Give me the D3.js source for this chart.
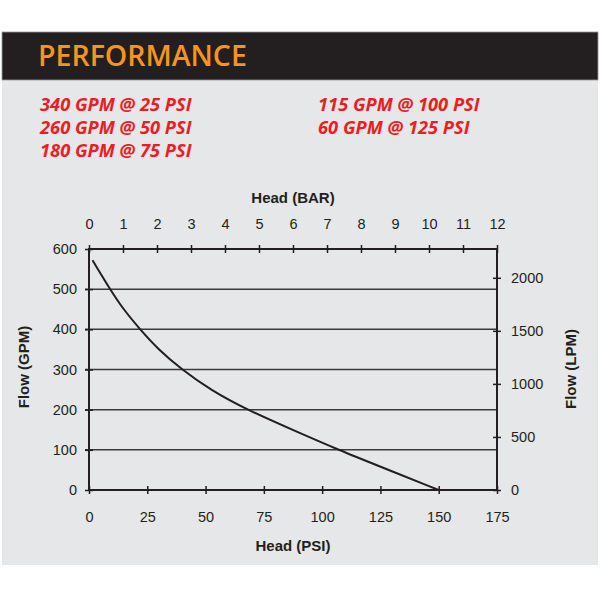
<!DOCTYPE html>
<html><head><meta charset="utf-8">
<script src="https://cdn.jsdelivr.net/npm/d3@7"></script>
<style>body{margin:0;background:#fff}svg{display:block}</style>
</head><body>
<svg id="c" width="600" height="600"></svg>
<script>
const title = "PERFORMANCE";
const ratingsLeft = ["340 GPM @ 25 PSI", "260 GPM @ 50 PSI", "180 GPM @ 75 PSI"];
const ratingsRight = ["115 GPM @ 100 PSI", "60 GPM @ 125 PSI"];
const headPsi = [1.5, 9, 14.7, 21.9, 29.7, 39.8, 51.9, 67.6, 90, 107, 125, 150];
const flowGpm = [572, 500, 450, 400, 350, 300, 250, 200, 143, 100, 58, 0];
const psiTicks = [0, 25, 50, 75, 100, 125, 150, 175];
const barTicks = [0, 1, 2, 3, 4, 5, 6, 7, 8, 9, 10, 11, 12];
const gpmTicks = [0, 100, 200, 300, 400, 500, 600];
const lpmTicks = [0, 500, 1000, 1500, 2000];

const svg = d3.select("#c");
const ink = "#231f20";
// background panels
svg.append("rect").attr("x", 2).attr("y", 80).attr("width", 596).attr("height", 485).attr("fill", "#e6e7e8");
svg.append("rect").attr("x", 2).attr("y", 32).attr("width", 596).attr("height", 48).attr("fill", ink)
  .attr("stroke", "#9a9a9a").attr("stroke-width", 0.8);
svg.append("text").attr("x", 38).attr("y", 66).text(title)
  .attr("font-family", "Open Sans").attr("font-weight", 600).attr("font-size", 28.5).attr("fill", "#f7941d");

const rt = svg.append("g").attr("font-family", "Open Sans").attr("font-weight", 700)
  .attr("font-style", "italic").attr("font-size", 18.3).attr("fill", "#ed1c24");
ratingsLeft.forEach((t, i) => rt.append("text").attr("x", 40).attr("y", 111 + i * 23).text(t));
ratingsRight.forEach((t, i) => rt.append("text").attr("x", 318).attr("y", 111 + i * 23).text(t));

const L = 89, R = 497, T = 249, B = 490;
const x = d3.scaleLinear().domain([0, 175]).range([L, R]);
const xb = d3.scaleLinear().domain([0, 12]).range([L, R]);
const y = d3.scaleLinear().domain([0, 600]).range([B, T]);
const yl = d3.scaleLinear().domain([0, 600 * 3.78541]).range([B, T]);

const font = "Liberation Sans, Arial, sans-serif";
function styleAxis(g) {
  g.select(".domain").remove();
  g.selectAll(".tick line").attr("stroke", ink).attr("stroke-width", 1.5);
  g.selectAll(".tick text").attr("font-family", font).attr("font-size", 14.5).attr("fill", ink);
}

// gridlines
svg.append("g").selectAll("line").data(gpmTicks.filter(d => d > 0 && d < 600)).join("line")
  .attr("x1", L - 4).attr("x2", R).attr("y1", d => y(d)).attr("y2", d => y(d))
  .attr("stroke", "#3a3a3a").attr("stroke-width", 1.5);

// frame
svg.append("rect").attr("x", L).attr("y", T).attr("width", R - L).attr("height", B - T)
  .attr("fill", "none").attr("stroke", ink).attr("stroke-width", 2);

// axes
svg.append("g").attr("transform", `translate(0,${B})`)
  .call(d3.axisBottom(x).tickValues(psiTicks).tickSize(8).tickPadding(14).tickFormat(d3.format("d")))
  .call(g => g.selectAll(".tick line").attr("y1", -4).attr("y2", 4)).call(styleAxis);
svg.append("g").attr("transform", `translate(0,${T})`)
  .call(d3.axisTop(xb).tickValues(barTicks).tickSize(8).tickPadding(12).tickFormat(d3.format("d")))
  .call(g => g.selectAll(".tick line").attr("y1", -4).attr("y2", 4)).call(styleAxis);
svg.append("g").attr("transform", `translate(${L},0)`)
  .call(d3.axisLeft(y).tickValues(gpmTicks).tickSize(4).tickPadding(8).tickFormat(d3.format("d")))
  .call(g => g.selectAll(".tick line").attr("x1", -4).attr("x2", 4)).call(styleAxis);
svg.append("g").attr("transform", `translate(${R},0)`)
  .call(d3.axisRight(yl).tickValues(lpmTicks).tickSize(4).tickPadding(10).tickFormat(d3.format("d")))
  .call(g => g.selectAll(".tick line").attr("x1", -4).attr("x2", 4)).call(styleAxis);

// titles
const tt = svg.append("g").attr("font-family", font).attr("font-weight", 700).attr("font-size", 15)
  .attr("fill", ink).attr("text-anchor", "middle");
tt.append("text").attr("x", 293).attr("y", 203).text("Head (BAR)");
tt.append("text").attr("x", 293).attr("y", 551).text("Head (PSI)");
tt.append("text").attr("transform", "translate(29,367) rotate(-90)").text("Flow (GPM)");
tt.append("text").attr("transform", "translate(576,369) rotate(-90)").text("Flow (LPM)");

// curve
const pts = headPsi.map((h, i) => [h, flowGpm[i]]);
svg.append("path").datum(pts)
  .attr("d", d3.line().x(d => x(d[0])).y(d => y(d[1])).curve(d3.curveBasis))
  .attr("fill", "none").attr("stroke", ink).attr("stroke-width", 2);
</script>
</body></html>
